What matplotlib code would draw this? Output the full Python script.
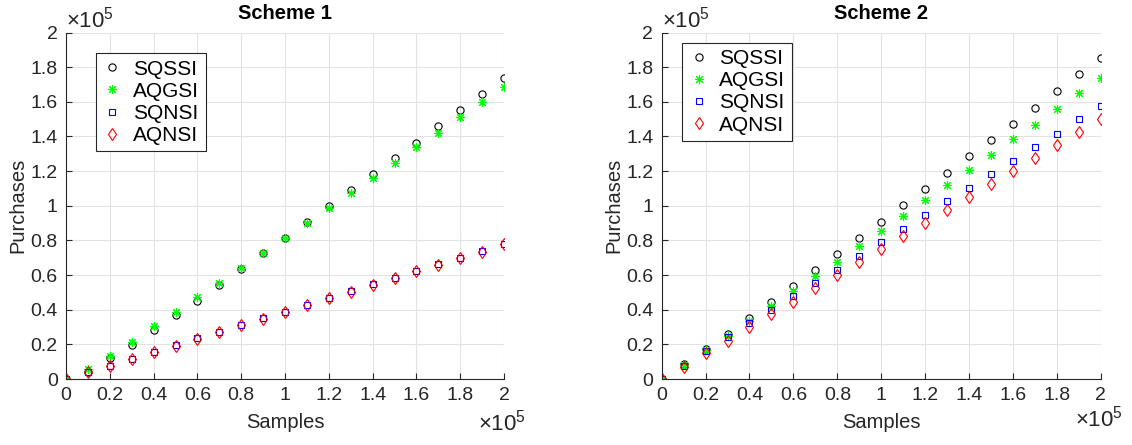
import matplotlib

matplotlib.use("Agg")
import matplotlib.pyplot as plt
from matplotlib.ticker import FuncFormatter, MultipleLocator

plt.rcParams["font.family"] = ["Liberation Sans", "DejaVu Sans"]
plt.rcParams["mathtext.fontset"] = "custom"
plt.rcParams["mathtext.rm"] = "Liberation Sans"

# samples, in units of 1e5
samples = [0.0, 0.1, 0.2, 0.3, 0.4, 0.5, 0.6, 0.7, 0.8, 0.9, 1.0,
           1.1, 1.2, 1.3, 1.4, 1.5, 1.6, 1.7, 1.8, 1.9, 2.0]

# purchases, in units of 1e5
s1_sqssi = [0.0, 0.042, 0.119, 0.198, 0.283, 0.367, 0.452, 0.540, 0.633, 0.725, 0.813,
            0.904, 0.996, 1.090, 1.181, 1.275, 1.365, 1.458, 1.550, 1.644, 1.737]
s1_aqgsi = [0.0, 0.058, 0.133, 0.215, 0.304, 0.388, 0.471, 0.556, 0.640, 0.725, 0.813,
            0.900, 0.988, 1.075, 1.162, 1.248, 1.337, 1.421, 1.512, 1.600, 1.687]
s1_sqnsi = [0.0, 0.042, 0.077, 0.115, 0.156, 0.194, 0.235, 0.273, 0.313, 0.350, 0.388,
            0.427, 0.467, 0.506, 0.546, 0.585, 0.623, 0.662, 0.700, 0.738, 0.779]
s1_aqnsi = [0.0, 0.040, 0.075, 0.113, 0.154, 0.192, 0.233, 0.271, 0.311, 0.348, 0.386,
            0.425, 0.465, 0.504, 0.544, 0.583, 0.621, 0.660, 0.698, 0.736, 0.777]

s2_sqssi = [0.0, 0.085, 0.173, 0.262, 0.352, 0.444, 0.538, 0.629, 0.721, 0.815, 0.908,
            1.002, 1.094, 1.188, 1.287, 1.381, 1.473, 1.567, 1.662, 1.760, 1.852]
s2_aqgsi = [0.0, 0.081, 0.165, 0.250, 0.335, 0.419, 0.506, 0.592, 0.677, 0.765, 0.856,
            0.942, 1.031, 1.117, 1.206, 1.294, 1.385, 1.469, 1.560, 1.650, 1.737]
s2_sqnsi = [0.0, 0.077, 0.162, 0.242, 0.323, 0.400, 0.477, 0.552, 0.631, 0.710, 0.788,
            0.867, 0.946, 1.027, 1.104, 1.185, 1.260, 1.340, 1.417, 1.500, 1.575]
s2_aqnsi = [0.0, 0.071, 0.148, 0.219, 0.300, 0.373, 0.446, 0.523, 0.600, 0.673, 0.750,
            0.827, 0.900, 0.975, 1.048, 1.125, 1.200, 1.273, 1.350, 1.427, 1.498]

series_names = ["SQSSI", "AQGSI", "SQNSI", "AQNSI"]
titles = ["Scheme 1", "Scheme 2"]

TEXT = "#262626"
styles = [
    dict(marker="o", mfc="none", mec="black", ms=5.2, mew=0.8),
    dict(marker=(8, 2, 0), mfc="none", mec="#00ff00", ms=6.5, mew=0.8),
    dict(marker="s", mfc="none", mec="#0000ff", ms=4.3, mew=0.8),
    dict(marker="d", mfc="none", mec="#ff0000", ms=6.2, mew=0.8),
]

fig = plt.figure(figsize=(11.32, 4.45), dpi=100)
positions = [[0.0583, 0.1483, 0.3870, 0.7786], [0.5845, 0.1483, 0.3880, 0.7786]]
scheme_data = [
    [s1_sqssi, s1_aqgsi, s1_sqnsi, s1_aqnsi],
    [s2_sqssi, s2_aqgsi, s2_sqnsi, s2_aqnsi],
]
legend_boxes = [(0.068, 0.94), (0.046, 0.97)]
xexp_pos = [(0.995, -0.127), (0.995, -0.113)]

fmt = FuncFormatter(lambda v, _: f"{v:g}")

for idx, (pos, data) in enumerate(zip(positions, scheme_data)):
    ax = fig.add_axes(pos)
    for name, values, style in zip(series_names, data, styles):
        ax.plot(samples, values, linestyle="none", label=name, **style)

    ax.set_xlim(0, 2)
    ax.set_ylim(0, 2)
    ax.xaxis.set_major_locator(MultipleLocator(0.2))
    ax.yaxis.set_major_locator(MultipleLocator(0.2))
    ax.xaxis.set_major_formatter(fmt)
    ax.yaxis.set_major_formatter(fmt)
    ax.grid(True, color="#e3e3e3", linewidth=0.8)
    ax.set_axisbelow(True)
    for side in ("top", "right"):
        ax.spines[side].set_visible(False)
    for side in ("left", "bottom"):
        ax.spines[side].set_color(TEXT)
        ax.spines[side].set_linewidth(0.8)
    ax.tick_params(direction="in", length=4, width=0.8, colors=TEXT, labelsize=14, pad=6)

    ax.set_title(titles[idx], fontsize=14.5, fontweight="bold", pad=10)
    ax.set_xlabel("Samples", fontsize=14.5, color=TEXT, labelpad=6)
    ax.set_ylabel("Purchases", fontsize=14.5, color=TEXT, labelpad=2)

    ax.text(0.0, 1.0, r"$\times10^5$", transform=ax.transAxes, fontsize=16,
            color=TEXT, ha="left", va="bottom")
    ax.text(xexp_pos[idx][0], xexp_pos[idx][1], r"$\times10^5$", transform=ax.transAxes,
            fontsize=16, color=TEXT, ha="center", va="center")

    leg = ax.legend(loc="upper left", bbox_to_anchor=legend_boxes[idx], borderaxespad=0,
                    fontsize=15, frameon=True, fancybox=False, edgecolor=TEXT,
                    framealpha=1, borderpad=0.3, handletextpad=0.5,
                    labelspacing=0.15, handlelength=1.0)
    leg.get_frame().set_linewidth(0.8)

fig.savefig("out.png", dpi=100)
